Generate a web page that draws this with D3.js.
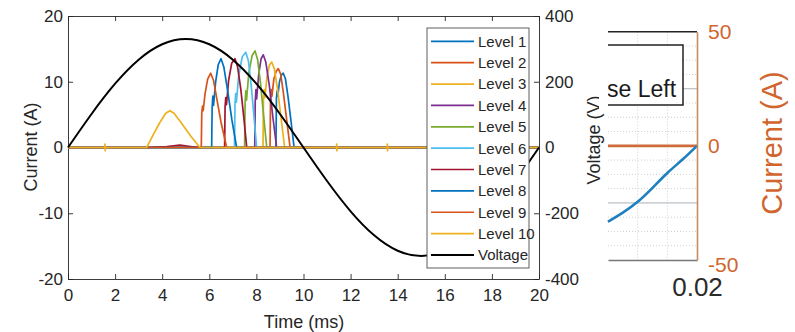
<!DOCTYPE html>
<html>
<head>
<meta charset="utf-8">
<script src="https://cdn.jsdelivr.net/npm/d3@7"></script>
<style>
	body { margin: 0; background: #fff; }
	svg { display: block; }
	.narrow { font-family: 'Liberation Sans Narrow', 'Arial Narrow', 'Liberation Sans', Arial, sans-serif; }
</style>
</head>
<body>
<svg id="chart" width="795" height="332"></svg>
<script>
// left chart: firing current per level against time (ms)
const levelNames = ['Level 1', 'Level 2', 'Level 3', 'Level 4', 'Level 5', 'Level 6', 'Level 7', 'Level 8', 'Level 9', 'Level 10'];
const levelColors = ['#0072BD', '#D95319', '#EDB120', '#7E2F8E', '#77AC30', '#4DBEEE', '#A2142F', '#0072BD', '#D95319', '#EDB120'];

const level1 = [[0, 0], [8.83, 0], [8.85, 7.4], [8.88, 8.6], [8.91, 7.8], [8.98, 10], [9.06, 11], [9.14, 11.3], [9.23, 10.5], [9.34, 7.8], [9.47, 4], [9.6, 0], [20, 0]];
const level2 = [[0, 0], [8.58, 0], [8.6, 7.4], [8.63, 8.8], [8.66, 7.8], [8.74, 10.4], [8.84, 11.6], [8.93, 12], [9.03, 11.2], [9.15, 8.2], [9.29, 4.1], [9.43, 0], [20, 0]];
const level3 = [[0, 0], [8.28, 0], [8.3, 7.2], [8.33, 8.8], [8.36, 7.6], [8.45, 10.8], [8.55, 12.5], [8.65, 13], [8.76, 12], [8.9, 8.8], [9.05, 4.4], [9.2, 0], [20, 0]];
const level4 = [[0, 0], [7.93, 0], [7.95, 7], [7.98, 8.8], [8.01, 7.4], [8.1, 11.2], [8.2, 13.5], [8.29, 14.1], [8.4, 13], [8.55, 9.4], [8.7, 4.6], [8.86, 0], [20, 0]];
const level5 = [[0, 0], [7.5, 0], [7.52, 6.8], [7.55, 8.6], [7.58, 7.2], [7.68, 11.4], [7.82, 14], [7.94, 14.7], [8.05, 13.4], [8.18, 9.6], [8.31, 4.7], [8.44, 0], [20, 0]];
const level6 = [[0, 0], [7.07, 0], [7.09, 6.5], [7.12, 8.2], [7.15, 6.9], [7.25, 11], [7.4, 13.8], [7.55, 14.5], [7.66, 13.2], [7.78, 9.4], [7.9, 4.6], [8.01, 0], [20, 0]];
const level7 = [[0, 0], [3.34, 0], [4.2, 0.15], [4.75, 0.35], [5.2, 0.15], [5.6, 0], [6.65, 0], [6.67, 6.2], [6.7, 7.6], [6.73, 6.5], [6.82, 10.2], [6.95, 12.8], [7.09, 13.5], [7.2, 12.3], [7.34, 8.8], [7.47, 4.4], [7.59, 0], [20, 0]];
const level8 = [[0, 0], [6.1, 0], [6.12, 6], [6.15, 7.8], [6.18, 6.4], [6.27, 10], [6.38, 12.6], [6.5, 13.5], [6.62, 12.2], [6.78, 8.6], [6.96, 4.2], [7.16, 0], [20, 0]];
const level9 = [[0, 0], [5.66, 0], [5.68, 5.2], [5.71, 6.3], [5.74, 5.6], [5.82, 8.2], [5.93, 10.4], [6.06, 11.3], [6.18, 10.2], [6.32, 7.4], [6.5, 3.8], [6.74, 0], [20, 0]];
const level10 = [[0, 0], [1.56, 0], [1.57, 0.5], [1.58, -0.5], [1.59, 0], [3.34, 0], [3.6, 1.8], [3.9, 3.8], [4.15, 5.2], [4.33, 5.6], [4.5, 5.2], [4.8, 3.8], [5.2, 1.8], [5.6, 0], [11.4, 0], [11.41, 0.5], [11.42, -0.5], [11.43, 0], [13.55, 0], [13.56, 0.5], [13.57, -0.5], [13.58, 0], [20, 0]];
const levels = [level1, level2, level3, level4, level5, level6, level7, level8, level9, level10];

const voltTimes = [0, 1, 2, 3, 4, 5, 6, 7, 8, 9, 10, 11, 12, 13, 14, 15, 16, 17, 18, 19, 20];
const voltValues = [0, 102, 194, 267, 314, 330, 314, 267, 194, 102, 0, -102, -194, -267, -314, -330, -314, -267, -194, -102, 0];

const timeTicks = [0, 2, 4, 6, 8, 10, 12, 14, 16, 18, 20];
const currentTicks = [-20, -10, 0, 10, 20];
const voltTicks = [-400, -200, 0, 200, 400];

// right fragment: zoom on the end of the cycle (s)
const zoomTimes = [0.017, 0.0175, 0.018, 0.0185, 0.019, 0.0195, 0.02];
const zoomVolt = [-266, -234, -196, -147, -95, -49, 0];
const zoomCurrent = [0, 0, 0, 0, 0, 0, 0];
const zoomTimeTicks = [0.018, 0.019];
const zoomCurrentTicks = [-50, 0, 50];
const zoomVoltMinor = [-350, -300, -250, -150, -100, -50, 50, 100, 150, 250, 300, 350];
const zoomVoltMajor = [-200, 200];

const AXIS_COLOR = '#262626';
const plain = d => String(d);
const svg = d3.select('#chart');

const x = d3.scaleLinear().domain([0, 20]).range([68, 539]);
const yI = d3.scaleLinear().domain([-20, 20]).range([279, 16]);
const yV = d3.scaleLinear().domain([-400, 400]).range([279, 16]);

const styleAxis = (g, size) => {
	g.select('.domain').attr('stroke', AXIS_COLOR).attr('stroke-width', 0.9);
	g.selectAll('.tick line').attr('stroke', AXIS_COLOR).attr('stroke-width', 0.9);
	g.selectAll('.tick text')
		.attr('fill', AXIS_COLOR)
		.attr('class', 'narrow')
		.style('font-size', size + 'px');
	return g;
};

const left = svg.append('g').classed('left', true);

left.append('g')
	.attr('transform', 'translate(0,279)')
	.call(d3.axisBottom(x).tickValues(timeTicks).tickFormat(plain).tickSizeInner(-5).tickSizeOuter(0).tickPadding(10))
	.call(g => styleAxis(g, 17));
left.append('g')
	.attr('transform', 'translate(0,16)')
	.call(d3.axisTop(x).tickValues(timeTicks).tickFormat('').tickSizeInner(-5).tickSizeOuter(0))
	.call(g => styleAxis(g, 17));
left.append('g')
	.attr('transform', 'translate(68,0)')
	.call(d3.axisLeft(yI).tickValues(currentTicks).tickFormat(plain).tickSizeInner(-5).tickSizeOuter(0).tickPadding(5))
	.call(g => styleAxis(g, 17));
left.append('g')
	.attr('transform', 'translate(539,0)')
	.call(d3.axisRight(yV).tickValues(voltTicks).tickFormat(plain).tickSizeInner(-5).tickSizeOuter(0).tickPadding(6))
	.call(g => styleAxis(g, 17));

const currentLine = d3.line().x(d => x(d[0])).y(d => yI(d[1]));
left.append('g').classed('levels', true)
	.selectAll('path')
	.data(levels)
	.join('path')
	.attr('d', currentLine)
	.attr('fill', 'none')
	.attr('stroke', (d, i) => levelColors[i])
	.attr('stroke-width', 1.7)
	.attr('stroke-linejoin', 'round');

const voltLine = d3.line()
	.x(d => x(d.t))
	.y(d => yV(d.v))
	.curve(d3.curveNatural);
left.append('path')
	.datum(voltTimes.map((t, i) => ({t: t, v: voltValues[i]})))
	.attr('d', voltLine)
	.attr('fill', 'none')
	.attr('stroke', '#000')
	.attr('stroke-width', 2);

left.append('text')
	.attr('class', 'narrow')
	.attr('transform', 'translate(37,147) rotate(-90)')
	.attr('text-anchor', 'middle')
	.attr('fill', AXIS_COLOR)
	.style('font-size', '18px')
	.text('Current (A)');
left.append('text')
	.attr('class', 'narrow')
	.attr('transform', 'translate(600,140) rotate(-90)')
	.attr('text-anchor', 'middle')
	.attr('fill', AXIS_COLOR)
	.style('font-size', '18px')
	.text('Voltage (V)');
left.append('text')
	.attr('class', 'narrow')
	.attr('x', 304)
	.attr('y', 328)
	.attr('text-anchor', 'middle')
	.attr('fill', AXIS_COLOR)
	.style('font-size', '18px')
	.text('Time (ms)');

// legend
const legendItems = levelNames.map((name, i) => ({name: name, color: levelColors[i], width: 1.7}))
	.concat([{name: 'Voltage', color: '#000', width: 2}]);
const legend = left.append('g').classed('legend', true);
legend.append('rect')
	.attr('x', 427)
	.attr('y', 28)
	.attr('width', 102)
	.attr('height', 240)
	.attr('fill', '#fff')
	.attr('stroke', '#4d4d4d')
	.attr('stroke-width', 0.9);
const rows = legend.selectAll('g.row')
	.data(legendItems)
	.join('g')
	.classed('row', true)
	.attr('transform', (d, i) => 'translate(0,' + (41.3 + i * 21.37) + ')');
rows.append('line')
	.attr('x1', 431)
	.attr('x2', 474)
	.attr('stroke', d => d.color)
	.attr('stroke-width', d => d.width);
rows.append('text')
	.attr('class', 'narrow')
	.attr('x', 478)
	.attr('dy', '0.36em')
	.attr('fill', AXIS_COLOR)
	.style('font-size', '15px')
	.text(d => d.name);

// right fragment
const right = svg.append('g').classed('right', true);
const xr = d3.scaleLinear().domain([0.017, 0.02]).range([608, 697]);
const yr = d3.scaleLinear().domain([-50, 50]).range([260, 31.7]);
const yrv = d3.scaleLinear().domain([-400, 400]).range([260, 31.7]);

right.append('g')
	.selectAll('line.vminor')
	.data(zoomVoltMinor)
	.join('line')
	.attr('x1', 608)
	.attr('x2', 697)
	.attr('y1', d => yrv(d))
	.attr('y2', d => yrv(d))
	.attr('stroke', '#cfcfcf')
	.attr('stroke-dasharray', '1,2');
right.append('g')
	.selectAll('line.tminor')
	.data(zoomTimeTicks)
	.join('line')
	.attr('x1', d => xr(d))
	.attr('x2', d => xr(d))
	.attr('y1', 31.7)
	.attr('y2', 260)
	.attr('stroke', '#cfcfcf')
	.attr('stroke-dasharray', '1,2');
right.append('g')
	.selectAll('line.vmajor')
	.data(zoomVoltMajor)
	.join('line')
	.attr('x1', 608)
	.attr('x2', 697)
	.attr('y1', d => yrv(d))
	.attr('y2', d => yrv(d))
	.attr('stroke', '#a9b1b8')
	.attr('stroke-width', 1);

right.append('path')
	.datum(zoomTimes.map((t, i) => ({t: t, v: zoomCurrent[i]})))
	.attr('d', d3.line().x(d => xr(d.t)).y(d => yr(d.v)))
	.attr('fill', 'none')
	.attr('stroke', '#cf6a3a')
	.attr('stroke-width', 2.6);
right.append('path')
	.datum(zoomTimes.map((t, i) => ({t: t, v: zoomVolt[i]})))
	.attr('d', d3.line().x(d => xr(d.t)).y(d => yrv(d.v)).curve(d3.curveNatural))
	.attr('fill', 'none')
	.attr('stroke', '#1f7fbf')
	.attr('stroke-width', 2.6);

// frame
right.append('line')
	.attr('x1', 608).attr('x2', 697)
	.attr('y1', 31.7).attr('y2', 31.7)
	.attr('stroke', '#222').attr('stroke-width', 1.4);
right.append('g')
	.attr('transform', 'translate(0,260)')
	.call(d3.axisBottom(xr).tickValues([0.02]).tickFormat(plain).tickSize(0).tickPadding(18))
	.call(g => {
		g.select('.domain').attr('stroke', '#777').attr('stroke-width', 1.4);
		g.selectAll('.tick text')
			.attr('fill', '#2b2b2b')
			.style('font-family', 'Liberation Sans, Arial, sans-serif')
			.style('font-size', '26px');
	});
right.append('g')
	.attr('transform', 'translate(697,0)')
	.call(d3.axisRight(yr).tickValues(zoomCurrentTicks).tickFormat(plain).tickSize(0).tickPadding(11))
	.call(g => {
		g.select('.domain').attr('stroke', '#c98b5e').attr('stroke-width', 1.6);
		g.selectAll('.tick text')
			.attr('fill', '#d0652e')
			.attr('dy', d => d < 0 ? '0.55em' : '0.32em')
			.style('font-family', 'Liberation Sans, Arial, sans-serif')
			.style('font-size', '21px');
	});

right.append('rect')
	.attr('x', 600)
	.attr('y', 45)
	.attr('width', 83)
	.attr('height', 60)
	.attr('fill', '#fff')
	.attr('stroke', '#222')
	.attr('stroke-width', 1.5);
right.append('text')
	.attr('x', 607)
	.attr('y', 97)
	.attr('fill', '#1a1a1a')
	.style('font-family', 'Liberation Sans, Arial, sans-serif')
	.style('font-size', '23px')
	.text('se Left');

right.append('text')
	.attr('transform', 'translate(782,143) rotate(-90)')
	.attr('text-anchor', 'middle')
	.attr('fill', '#d0652e')
	.style('font-family', 'Liberation Sans, Arial, sans-serif')
	.style('font-size', '29px')
	.text('Current (A)');

// the fragment is a cut-out: nothing shows left of its edge
svg.append('rect')
	.attr('x', 599)
	.attr('y', 40)
	.attr('width', 9)
	.attr('height', 70)
	.attr('fill', '#fff');
</script>
</body>
</html>
